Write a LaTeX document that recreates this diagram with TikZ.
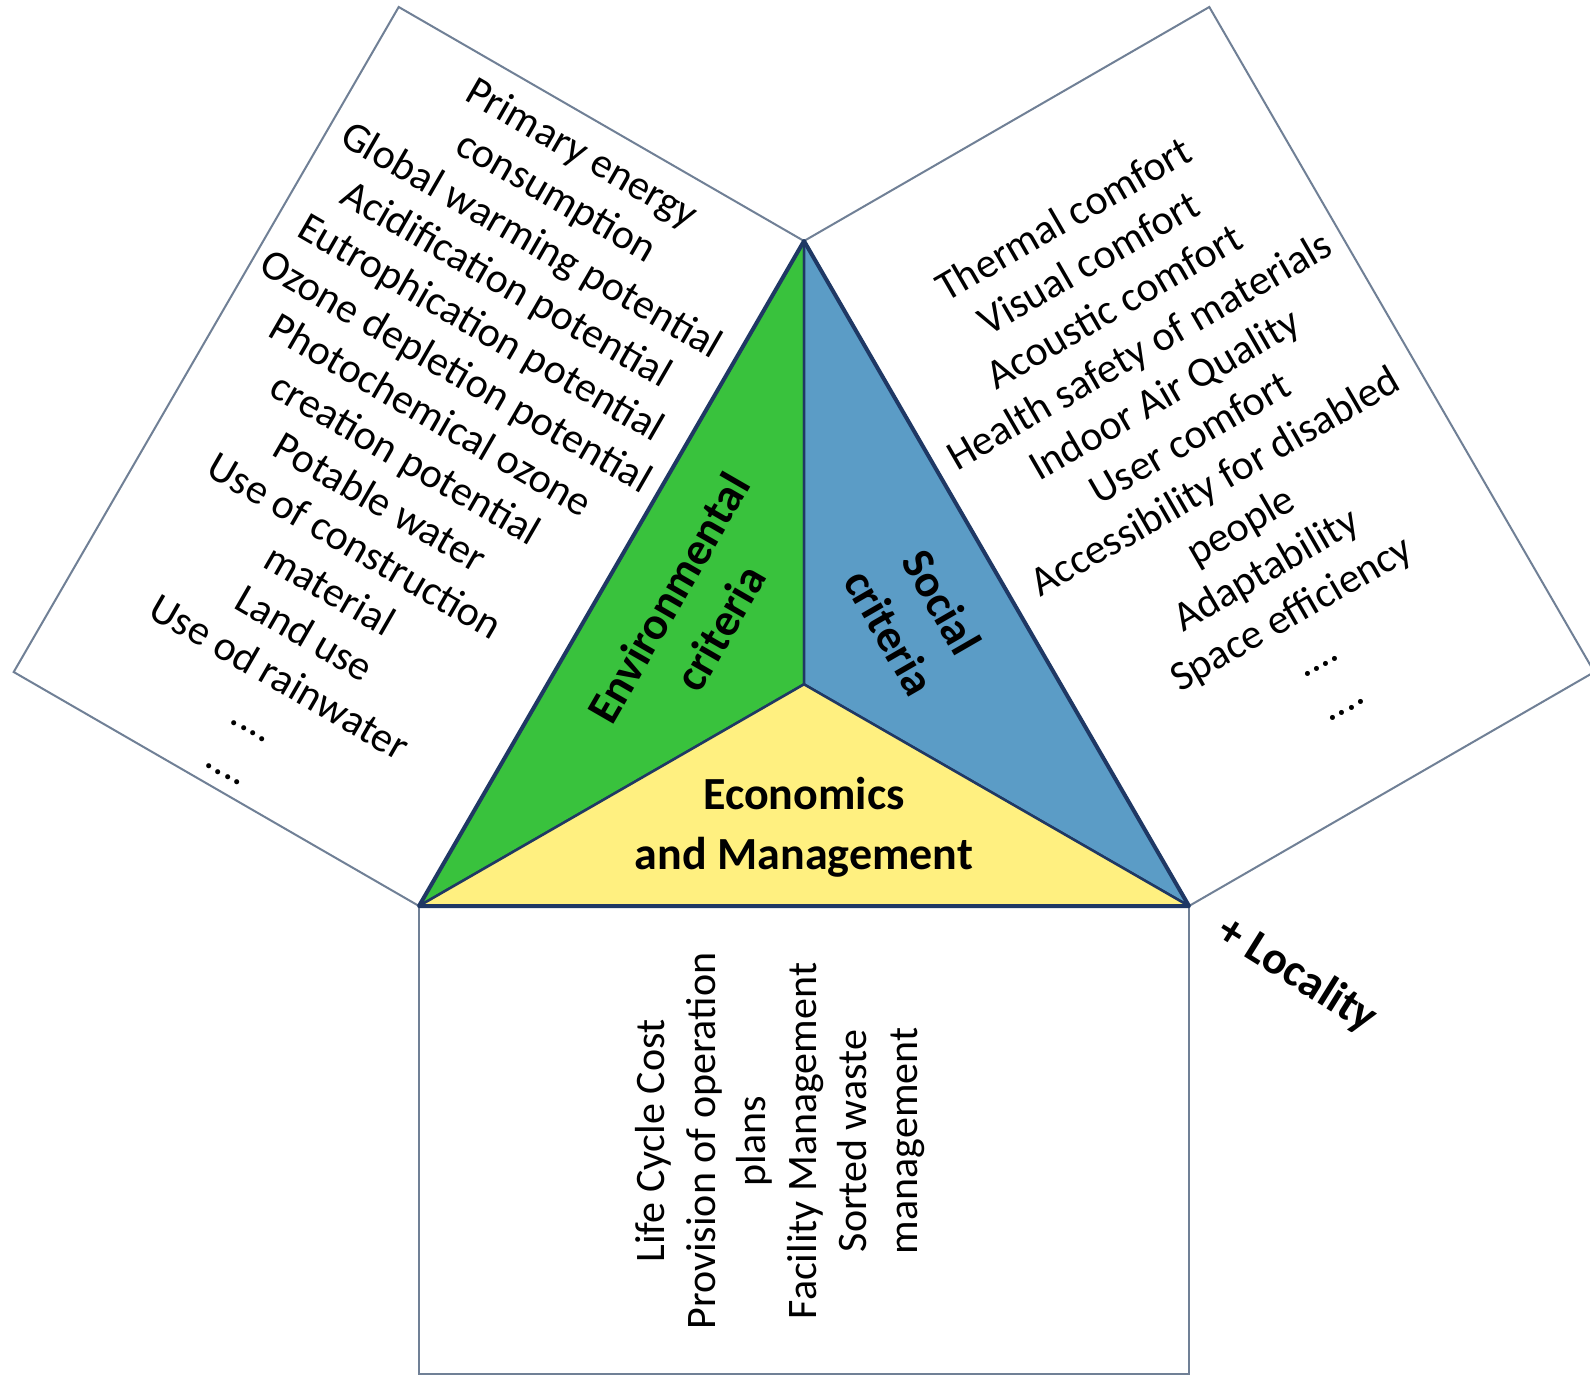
\documentclass[tikz,border=0pt]{standalone}
\usepackage{fontspec}
\setmainfont{Carlito}
\definecolor{envgreen}{RGB}{57,194,61}
\definecolor{socblue}{RGB}{91,156,198}
\definecolor{ecoyellow}{RGB}{255,240,128}
\definecolor{navy}{RGB}{31,56,100}
\definecolor{boxgray}{RGB}{112,128,150}
\begin{document}
\begin{tikzpicture}[x=1pt,y=-1pt,
  listtext/.style={font=\fontsize{42}{50.5}\selectfont, align=center, inner sep=0pt, text=black},
  labeltext/.style={font=\fontsize{46}{60}\selectfont\bfseries, align=center, inner sep=0pt, text=black},
  boxline/.style={draw=boxgray, line width=2pt, fill=white, line join=miter},
  part/.style={draw=navy, line width=2.5pt, line join=round}]
\useasboundingbox (0,0) rectangle (1590,1378);
\fill[white] (0,0) rectangle (1590,1378);
% triangle vertices
\coordinate (T) at (804,241);
\coordinate (BL) at (419,906);
\coordinate (BR) at (1189,906);
\coordinate (C) at (804,684.3);
% box corners
\coordinate (L1) at (398.7,7);
\coordinate (L2) at (13.7,672);
\coordinate (R1) at (1209.3,7);
\coordinate (R2) at (1594.3,672);
\coordinate (B1) at (419,1374);
\coordinate (B2) at (1189,1374);
% side boxes
\draw[boxline] (BL) -- (T) -- (L1) -- (L2) -- cycle;
\draw[boxline] (T) -- (BR) -- (R2) -- (R1) -- cycle;
\draw[boxline] (BL) -- (BR) -- (B2) -- (B1) -- cycle;
% triangle parts
\filldraw[part, fill=envgreen] (BL) -- (T) -- (C) -- cycle;
\filldraw[part, fill=socblue] (T) -- (BR) -- (C) -- cycle;
\filldraw[part, fill=ecoyellow] (BL) -- (BR) -- (C) -- cycle;
\draw[draw=navy, line width=4pt, line join=round] (BL) -- (T) -- (BR) -- cycle;
% labels
\node[labeltext, rotate=60] (env) at (694,613) {Environmental\\criteria};
\node[labeltext, rotate=-60] (soc) at (916,617) {Social\\criteria};
\node[labeltext] (eco) at (804,827) {Economics\\and Management};
\node[labeltext, rotate=-32] (loc) at (1297,975) {+ Locality};
% lists
\node[listtext, rotate=-30] (envlist) at (406,458) {Primary energy\\consumption\\Global warming potential\\Acidification potential\\Eutrophication potential\\Ozone depletion potential\\Photochemical ozone\\creation potential\\Potable water\\Use of construction\\material\\Land use\\Use od rainwater\\....\\....};
\node[listtext, rotate=30] (soclist) at (1202,459) {Thermal comfort\\Visual comfort\\Acoustic comfort\\Health safety of materials\\Indoor Air Quality\\User comfort\\Accessibility for disabled\\people\\Adaptability\\Space efficiency\\....\\....};
\node[listtext, rotate=90] (ecolist) at (780,1141) {Life Cycle Cost\\Provision of operation\\plans\\Facility Management\\Sorted waste\\management};
\end{tikzpicture}
\end{document}
